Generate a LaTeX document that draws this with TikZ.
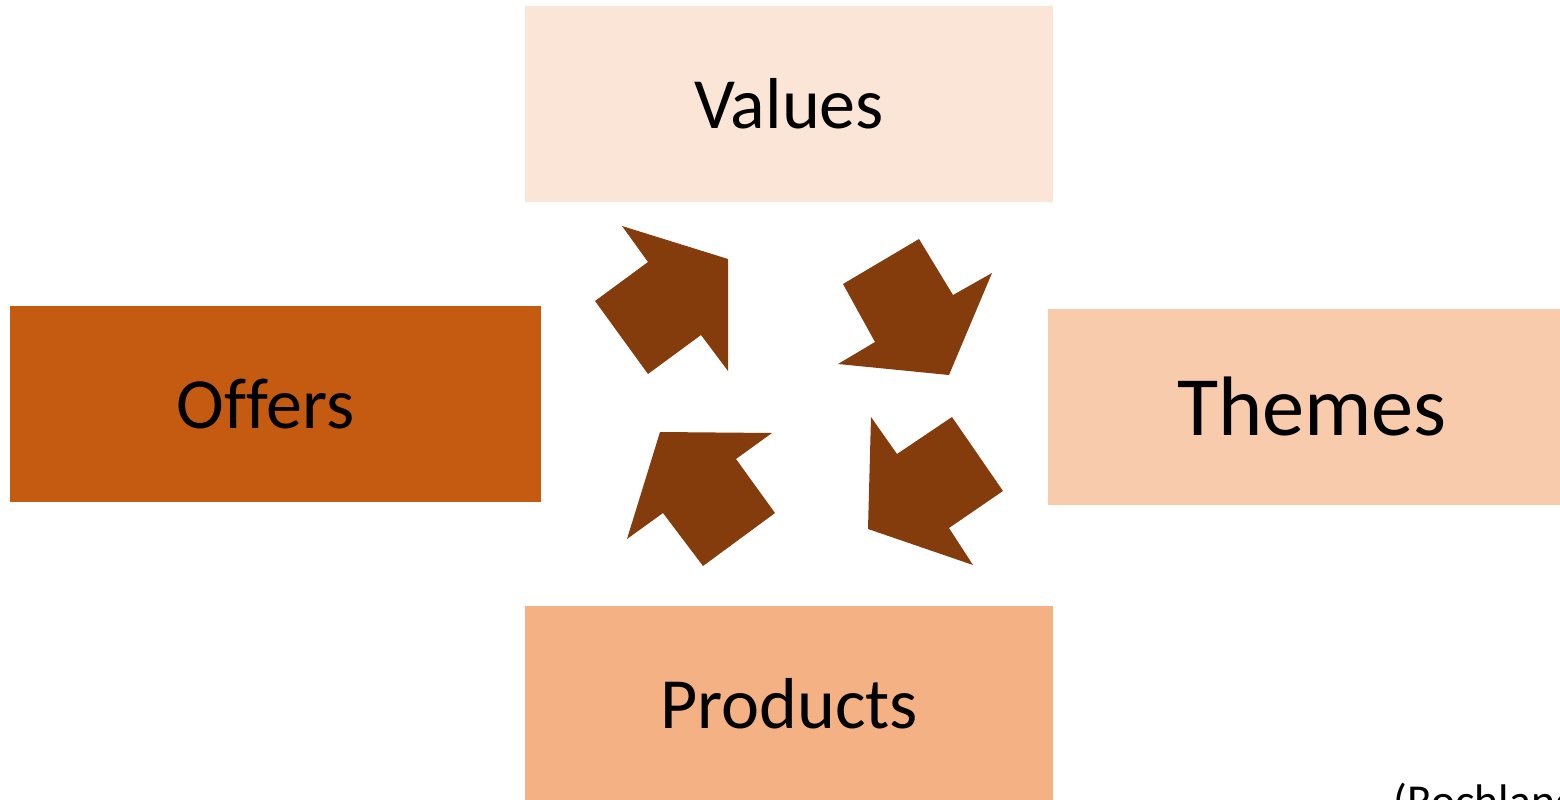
\documentclass[tikz,border=0pt]{standalone}
\usepackage{fontspec}
\setmainfont{Carlito}
\usetikzlibrary{positioning}
\definecolor{valuefill}{HTML}{FBE5D6}
\definecolor{offerfill}{HTML}{C55A11}
\definecolor{themefill}{HTML}{F8CBAD}
\definecolor{productfill}{HTML}{F4B183}
\definecolor{arrowbrown}{HTML}{843C0C}
\begin{document}
\begin{tikzpicture}[
                    x=0.01cm,
                    y=-0.01cm,
                    box/.style={rectangle,inner sep=0pt,
                        minimum width=5.28cm,minimum height=1.96cm,
                        font=\fontsize{20.5}{24}\selectfont},
                    cyclearrow/.style={fill=arrowbrown},
                ]
                \useasboundingbox (0,0) rectangle (1560,800);
                \clip (0,0) rectangle (1560,800);

                \node[box,fill=valuefill] (values) at (789,104) {Values};
                \node[box,fill=offerfill,minimum width=5.30cm] (offers) at (275.5,404) {Of\kern0ptfers\hspace*{0.2cm}};
                \node[box,fill=themefill,font=\fontsize{24}{29}\selectfont] (themes) at (1312,407) {Themes};
                \node[box,fill=productfill] (products) at (789,704) {Products};

                \fill[cyclearrow] (622,226) -- (728,259) -- (728,371) -- (701,335)
                    -- (648,374) -- (595,301) -- (648,262) -- cycle;
                \fill[cyclearrow] (919,239) -- (953,295) -- (992,273) -- (949,375)
                    -- (838,364) -- (875,342) -- (843,284) -- cycle;
                \fill[cyclearrow] (871,417) -- (897,454) -- (952,417) -- (1003,491)
                    -- (949,528) -- (973,565) -- (868,529) -- cycle;
                \fill[cyclearrow] (660,432) -- (772,433) -- (736,459) -- (775,513)
                    -- (703,566) -- (663,513) -- (627,539) -- cycle;

                \node[inner sep=0pt,anchor=base west,font=\fontsize{13}{16}\selectfont] (source) at (1393,816) {(Rochlane};
            \end{tikzpicture}
\end{document}
